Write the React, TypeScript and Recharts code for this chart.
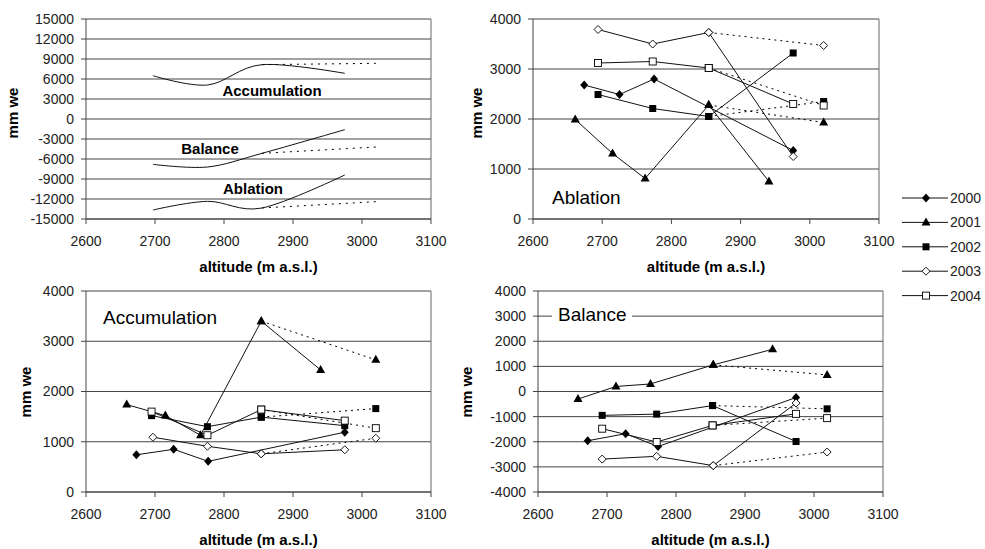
import React from 'react';
import { LineChart, Line, XAxis, YAxis, CartesianGrid, ReferenceLine } from 'recharts';

type Pt = [number, number];

const FONT = '"Liberation Sans", Arial, sans-serif';

// ---------- labels / ticks ----------
const years = ['2000', '2001', '2002', '2003', '2004'];
const altitudeTicks = [2600, 2700, 2800, 2900, 3000, 3100];
const summaryTicks = [-15000, -12000, -9000, -6000, -3000, 0, 3000, 6000, 9000, 12000, 15000];
const positiveTicks = [0, 1000, 2000, 3000, 4000];
const balanceTicks = [-4000, -3000, -2000, -1000, 0, 1000, 2000, 3000, 4000];

// ---------- summary panel (sums over 2000-2004) ----------
const sumAccumulation: Pt[] = [[2697, 6500], [2776, 5100], [2855, 8150], [2975, 6850]];
const sumAccumulationAlt: Pt[] = [[2855, 8150], [3020, 8350]];
const sumBalance: Pt[] = [[2697, -6800], [2776, -7200], [2855, -5150], [2975, -1600]];
const sumBalanceAlt: Pt[] = [[2855, -5150], [3020, -4200]];
const sumAblation: Pt[] = [[2697, -13650], [2776, -12350], [2855, -13350], [2975, -8400]];
const sumAblationAlt: Pt[] = [[2855, -13350], [3020, -12400]];

// ---------- ablation (index = year) ----------
const ablationSolid: Pt[][] = [
  [[2674, 2680], [2725, 2490], [2775, 2800], [2976, 1370]],
  [[2661, 1990], [2715, 1310], [2762, 810], [2854, 2280], [2941, 750]],
  [[2694, 2490], [2773, 2210], [2854, 2050], [2976, 3320]],
  [[2694, 3790], [2773, 3500], [2854, 3730], [2976, 1250]],
  [[2694, 3120], [2773, 3150], [2854, 3020], [2976, 2300]],
];
const ablationDotted: Pt[][] = [
  [],
  [[2854, 2280], [3020, 1930]],
  [[2854, 2050], [3020, 2350]],
  [[2854, 3730], [3020, 3470]],
  [[2854, 3020], [3020, 2270]],
];

// ---------- accumulation ----------
const accumulationSolid: Pt[][] = [
  [[2673, 740], [2727, 850], [2777, 610], [2975, 1190]],
  [[2659, 1740], [2715, 1520], [2766, 1130], [2854, 3400], [2940, 2430]],
  [[2695, 1520], [2776, 1300], [2854, 1490], [2975, 1320]],
  [[2697, 1090], [2776, 910], [2854, 760], [2975, 840]],
  [[2695, 1600], [2776, 1130], [2854, 1640], [2975, 1420]],
];
const accumulationDotted: Pt[][] = [
  [],
  [[2854, 3400], [3020, 2630]],
  [[2854, 1490], [3020, 1660]],
  [[2854, 760], [3020, 1070]],
  [[2854, 1640], [3020, 1270]],
];

// ---------- balance ----------
const balanceSolid: Pt[][] = [
  [[2672, -1960], [2727, -1680], [2774, -2190], [2974, -240]],
  [[2658, -300], [2713, 200], [2763, 300], [2854, 1060], [2940, 1680]],
  [[2693, -950], [2772, -900], [2853, -560], [2974, -1990]],
  [[2693, -2690], [2772, -2580], [2854, -2950], [2974, -460]],
  [[2693, -1480], [2772, -2010], [2853, -1350], [2974, -890]],
];
const balanceDotted: Pt[][] = [
  [],
  [[2854, 1060], [3019, 660]],
  [[2853, -560], [3019, -690]],
  [[2854, -2950], [3019, -2410]],
  [[2853, -1350], [3019, -1060]],
];

const toRows = (pts: Pt[]) => pts.map(([x, y]) => ({ x, y }));

// Excel-like smoothed curve (Catmull-Rom / cardinal, tension 0)
const excelSmooth: any = (context: any) => {
  let x0 = NaN, y0 = NaN, x1 = NaN, y1 = NaN, x2 = NaN, y2 = NaN, n = 0;
  const k = 1 / 6;
  const seg = (x: number, y: number) =>
    context.bezierCurveTo(x1 + k * (x2 - x0), y1 + k * (y2 - y0), x2 + k * (x1 - x), y2 + k * (y1 - y), x2, y2);
  return {
    areaStart() {},
    areaEnd() {},
    lineStart() {
      x0 = x1 = x2 = y0 = y1 = y2 = NaN;
      n = 0;
    },
    lineEnd() {
      if (n === 2) context.lineTo(x2, y2);
      else if (n === 3) seg(x1, y1);
    },
    point(x: number, y: number) {
      x = +x;
      y = +y;
      if (n === 0) {
        n = 1;
        context.moveTo(x, y);
      } else if (n === 1) {
        n = 2;
        x1 = x;
        y1 = y;
      } else {
        if (n === 2) n = 3;
        seg(x, y);
      }
      x0 = x1; x1 = x2; x2 = x;
      y0 = y1; y1 = y2; y2 = y;
    },
  };
};

function MarkerShape({ kind, cx, cy }: { kind: number; cx: number; cy: number }) {
  const c = '#000';
  if (kind === 0)
    return <path d={`M${cx} ${cy - 4.5}L${cx + 4} ${cy}L${cx} ${cy + 4.5}L${cx - 4} ${cy}Z`} fill={c} />;
  if (kind === 1)
    return <path d={`M${cx} ${cy - 5}L${cx + 4.5} ${cy + 3}L${cx - 4.5} ${cy + 3}Z`} fill={c} />;
  if (kind === 2) return <rect x={cx - 3.5} y={cy - 3.5} width={7} height={7} fill={c} />;
  if (kind === 3)
    return (
      <path
        d={`M${cx} ${cy - 4}L${cx + 4} ${cy}L${cx} ${cy + 4}L${cx - 4} ${cy}Z`}
        fill="#fff"
        stroke={c}
        strokeWidth={0.9}
      />
    );
  return <rect x={cx - 3.5} y={cy - 3.5} width={7} height={7} fill="#fff" stroke={c} strokeWidth={0.9} />;
}

const dotFor = (kind: number) => (props: any) => {
  const { cx, cy, index } = props;
  const key = props.key ?? `d-${kind}-${index}`;
  if (cx == null || cy == null || Number.isNaN(cx) || Number.isNaN(cy)) return <g key={key} />;
  return (
    <g key={key}>
      <MarkerShape kind={kind} cx={cx} cy={cy} />
    </g>
  );
};

const tickStyle = { fontSize: 14, fontFamily: FONT, fill: '#222' };

interface PanelProps {
  left: number;
  top: number;
  width: number;
  height: number;
  yAxisWidth: number;
  marginTop: number;
  marginBottom: number;
  domain: [number, number];
  ticks: number[];
  children: React.ReactNode;
}

const RIGHT_MARGIN = 34;

function Panel({ left, top, width, height, yAxisWidth, marginTop, marginBottom, domain, ticks, children }: PanelProps) {
  return (
    <div style={{ position: 'absolute', left, top }}>
      <LineChart
        width={width}
        height={height}
        margin={{ top: marginTop, right: RIGHT_MARGIN, bottom: marginBottom, left: 0 }}
      >
        <CartesianGrid vertical={false} stroke="#444" strokeWidth={1} />
        <XAxis
          type="number"
          dataKey="x"
          domain={[2600, 3100]}
          ticks={altitudeTicks}
          interval={0}
          allowDataOverflow
          height={40}
          tickSize={5}
          tickMargin={12}
          stroke="#444"
          tick={tickStyle}
        />
        <YAxis
          type="number"
          dataKey="y"
          domain={domain}
          ticks={ticks}
          interval={0}
          allowDataOverflow
          width={yAxisWidth}
          tickSize={5}
          tickMargin={7}
          stroke="#444"
          tick={tickStyle}
        />
        <ReferenceLine x={3100} stroke="#666" ifOverflow="visible" />
        {children}
      </LineChart>
    </div>
  );
}

function yearSeries(solid: Pt[][], dotted: Pt[][], prefix: string) {
  const out: React.ReactNode[] = [];
  years.forEach((yr, i) => {
    if (dotted[i].length) {
      out.push(
        <Line
          key={`${prefix}-dot-${yr}`}
          data={toRows(dotted[i])}
          dataKey="y"
          name={`${yr} alt`}
          type="linear"
          stroke="#000"
          strokeWidth={1}
          strokeDasharray="2 4"
          dot={dotFor(i)}
          activeDot={false}
          isAnimationActive={false}
          legendType="none"
        />
      );
    }
  });
  years.forEach((yr, i) => {
    out.push(
      <Line
        key={`${prefix}-solid-${yr}`}
        data={toRows(solid[i])}
        dataKey="y"
        name={yr}
        type="linear"
        stroke="#111"
        strokeWidth={1}
        dot={dotFor(i)}
        activeDot={false}
        isAnimationActive={false}
      />
    );
  });
  return out;
}

function summarySeries() {
  const solid = [sumAccumulation, sumBalance, sumAblation];
  const alt = [sumAccumulationAlt, sumBalanceAlt, sumAblationAlt];
  const names = ['Accumulation', 'Balance', 'Ablation'];
  const out: React.ReactNode[] = [];
  names.forEach((nm, i) => {
    out.push(
      <Line
        key={`sum-alt-${nm}`}
        data={toRows(alt[i])}
        dataKey="y"
        name={`${nm} alt`}
        type="linear"
        stroke="#000"
        strokeWidth={1}
        strokeDasharray="2 5"
        dot={false}
        activeDot={false}
        isAnimationActive={false}
      />
    );
    out.push(
      <Line
        key={`sum-${nm}`}
        data={toRows(solid[i])}
        dataKey="y"
        name={nm}
        type={excelSmooth}
        stroke="#111"
        strokeWidth={1}
        dot={false}
        activeDot={false}
        isAnimationActive={false}
      />
    );
  });
  return out;
}

function Overlay() {
  const bold = { fontFamily: FONT, fontWeight: 700, fontSize: 15, fill: '#000' } as const;
  const big = { fontFamily: FONT, fontSize: 19, fill: '#000' } as const;
  const axisTitles = [
    { x: 258.5, y: 272 },
    { x: 706, y: 272 },
    { x: 258.5, y: 545 },
    { x: 710.5, y: 545 },
  ];
  const yTitles = [
    { x: 18, y: 113 },
    { x: 482, y: 113 },
    { x: 31, y: 392 },
    { x: 472, y: 392 },
  ];
  return (
    <svg
      width={985}
      height={549}
      style={{ position: 'absolute', left: 0, top: 0, pointerEvents: 'none' }}
    >
      {axisTitles.map((p, i) => (
        <text key={`ax${i}`} x={p.x} y={p.y} textAnchor="middle" {...bold}>
          altitude (m a.s.l.)
        </text>
      ))}
      {yTitles.map((p, i) => (
        <text
          key={`yt${i}`}
          x={p.x}
          y={p.y}
          textAnchor="middle"
          transform={`rotate(-90 ${p.x} ${p.y})`}
          {...bold}
        >
          mm we
        </text>
      ))}
      <text x={272} y={96} textAnchor="middle" {...bold}>Accumulation</text>
      <text x={210} y={154} textAnchor="middle" {...bold}>Balance</text>
      <text x={253} y={194} textAnchor="middle" {...bold}>Ablation</text>

      <text x={552} y={204} {...big}>Ablation</text>
      <text x={103} y={324} {...big}>Accumulation</text>
      <rect x={552} y={305} width={80} height={20} fill="#fff" />
      <text x={558} y={321} {...big}>Balance</text>

      {years.map((yr, i) => {
        const y = 198 + i * 24.4;
        return (
          <g key={`lg${yr}`}>
            <line x1={902} x2={948} y1={y} y2={y} stroke="#111" strokeWidth={1} />
            <MarkerShape kind={i} cx={926} cy={y} />
            <text x={950} y={y + 5} fontFamily={FONT} fontSize={14} fill="#222">
              {yr}
            </text>
          </g>
        );
      })}
    </svg>
  );
}

export default function App() {
  return (
    <div
      style={{
        position: 'absolute',
        left: 0,
        top: 0,
        width: 985,
        height: 549,
        background: '#fff',
        fontFamily: FONT,
        overflow: 'hidden',
      }}
    >
      <Panel left={0} top={0} width={431 + RIGHT_MARGIN} height={285} yAxisWidth={86} marginTop={19} marginBottom={26} domain={[-15000, 15000]} ticks={summaryTicks}>
        {summarySeries()}
      </Panel>
      <Panel left={440} top={0} width={439 + RIGHT_MARGIN} height={285} yAxisWidth={93} marginTop={19} marginBottom={26} domain={[0, 4000]} ticks={positiveTicks}>
        {yearSeries(ablationSolid, ablationDotted, 'abl')}
      </Panel>
      <Panel left={0} top={270} width={431 + RIGHT_MARGIN} height={279} yAxisWidth={86} marginTop={21} marginBottom={17} domain={[0, 4000]} ticks={positiveTicks}>
        {yearSeries(accumulationSolid, accumulationDotted, 'acc')}
      </Panel>
      <Panel left={440} top={270} width={443 + RIGHT_MARGIN} height={279} yAxisWidth={98} marginTop={21} marginBottom={17} domain={[-4000, 4000]} ticks={balanceTicks}>
        {yearSeries(balanceSolid, balanceDotted, 'bal')}
      </Panel>
      <Overlay />
    </div>
  );
}
